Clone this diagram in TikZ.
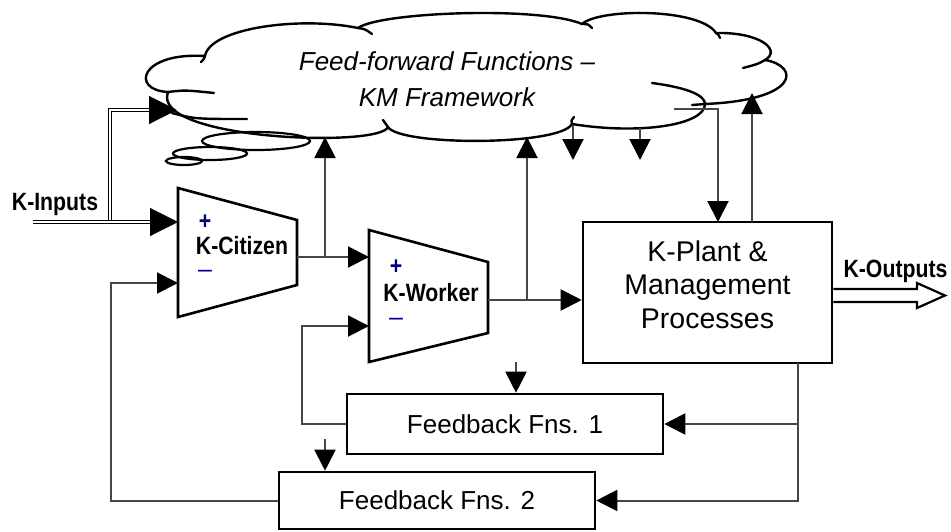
\documentclass[tikz,border=0pt]{standalone}
\usepackage{fontspec}
\setmainfont{Liberation Sans}
\newfontfamily\narrowsf[FakeStretch=0.85]{Liberation Sans}
\usetikzlibrary{arrows.meta,calc}
\definecolor{signnavy}{RGB}{0,0,128}
\definecolor{linegray}{RGB}{70,70,70}
\begin{document}
\begin{tikzpicture}[x=1pt,y=-1pt,
  heavy/.style={line width=2.6pt, line join=miter},
  fbbox/.style={draw, heavy, inner sep=0pt, minimum width=316pt, font=\fontsize{26}{31}\selectfont},
  conn/.style={draw=linegray, line width=2pt, -{Triangle[length=21pt,width=21pt,color=black]}},
  bigconn/.style={draw=black, double=white, double distance=2.2pt, line width=1.1pt, -{Triangle[length=28pt,width=28pt]}},
  lbl/.style={font=\narrowsf\bfseries\fontsize{25}{30}\selectfont, inner sep=0pt},
  signp/.style={text=signnavy, inner sep=0pt, font=\narrowsf\bfseries\fontsize{25}{30}\selectfont},
  signm/.style={text=signnavy, inner sep=0pt, font=\fontsize{25}{30}\selectfont},
  cloudline/.style={line width=2.4pt, line join=round, line cap=round}
]
\fill[white] (0,0) rectangle (951,531);
\useasboundingbox (0,0) rectangle (951,531);

% ---------- cloud ----------
\path[fill=white] (168,92) .. controls (130,90) and (140,52) .. (205,56)
  .. controls (210,28) and (300,16) .. (358,28)
  .. controls (380,12) and (540,6) .. (582,24)
  .. controls (600,8) and (700,8) .. (716,33)
  .. controls (760,32) and (782,50) .. (765,60)
  .. controls (800,66) and (800,100) .. (705,104)
  .. controls (705,125) and (640,135) .. (572,124)
  .. controls (560,146) and (400,146) .. (388,127)
  .. controls (380,148) and (150,140) .. (168,92) -- cycle;
\draw[cloudline] (168,92) .. controls (130,90) and (140,52) .. (205,56)
  .. controls (210,28) and (300,16) .. (358,28)
  .. controls (380,12) and (540,6) .. (582,24)
  .. controls (600,8) and (700,8) .. (716,33)
  .. controls (760,32) and (782,50) .. (765,60)
  .. controls (800,66) and (800,100) .. (705,104)
  .. controls (705,125) and (640,135) .. (572,124)
  .. controls (560,146) and (400,146) .. (388,127)
  .. controls (380,148) and (150,140) .. (168,92);
% inner tails
\draw[cloudline] (168,92) .. controls (185,90) .. (214,93);
\draw[cloudline] (172,113) .. controls (195,119) .. (247,119);
\draw[cloudline] (205,56) .. controls (204,59) .. (201,62);
\draw[cloudline] (358,28) .. controls (365,29) .. (372,34);
\draw[cloudline] (582,24) .. controls (588,24) .. (592,28);
\draw[cloudline] (716,33) .. controls (718,34) .. (720,38);
\draw[cloudline] (765,60) .. controls (758,64) .. (743,68);
\draw[cloudline] (652,83) .. controls (690,88) and (705,96) .. (705,104);
\draw[cloudline] (705,104) -- (692,105);
\draw[cloudline] (572,124) .. controls (571,121) .. (574,117);
\draw[cloudline] (388,127) .. controls (386,123) .. (383,120);
% thought bubbles
\draw[line width=2.2pt] (256,141) ellipse [x radius=54, y radius=9];
\draw[line width=2.2pt] (210,153.5) ellipse [x radius=37, y radius=6.5];
\draw[line width=2.2pt] (184,161) ellipse [x radius=18, y radius=4];
\node[align=center, inner sep=0pt, font=\itshape\fontsize{26}{36}\selectfont] (cloudtext) at (447,79.5) {Feed-forward Functions --\\KM Framework};

% ---------- boxes ----------
\node[draw, heavy, inner sep=0pt, minimum width=249pt, minimum height=141pt] (kplant) at (707.5,292.5) {};
\node[align=center, inner sep=0pt, font=\fontsize{28.5}{33.5}\selectfont] (kplanttext) at (707.5,284.5) {K-Plant \&\\Management\\Processes};
\node[fbbox, minimum height=60pt] (ff1) at (505,424) {Feedback Fns. 1};
\node[fbbox, minimum height=57pt] (ff2) at (437,500.5) {Feedback Fns. 2};

% ---------- trapezoids ----------
\coordinate (kcNW) at (178,188);
\coordinate (kcNE) at (297,220);
\coordinate (kcSE) at (297,285);
\coordinate (kcSW) at (178,317);
\draw[heavy] (kcNW) -- (kcNE) -- (kcSE) -- (kcSW) -- cycle;
\coordinate (kwNW) at (369,230);
\coordinate (kwNE) at (488,262);
\coordinate (kwSE) at (488,333);
\coordinate (kwSW) at (369,362);
\draw[heavy] (kwNW) -- (kwNE) -- (kwSE) -- (kwSW) -- cycle;

\node[lbl, anchor=base] (kclabel) at (242,254) {K-Citizen};
\node[signp] (kcplus) at (205,222) {+};
\node[signm] (kcminus) at (205,274) {--};
\node[lbl, anchor=base] (kwlabel) at (431,301) {K-Worker};
\node[signp] (kwplus) at (396,267) {+};
\node[signm] (kwminus) at (396,322) {--};
\node[lbl, anchor=base] (kinlabel) at (55,210) {K-Inputs};
\node[lbl, anchor=base] (koutlabel) at (895.5,277) {K-Outputs};

% ---------- ports ----------
\coordinate (kcA) at (178,222);
\coordinate (kcB) at (178,283);
\coordinate (kcO) at (297,257);
\coordinate (kwA) at (369,257);
\coordinate (kwB) at (369,326);
\coordinate (kwO) at (488,300);
\coordinate (kin) at (33,222);
\coordinate (kbr) at (110,222);
\coordinate (cloudin) at (177,110);
\coordinate (kcbr) at (325,257);
\coordinate (cloudup1) at (325,137);
\coordinate (kwbr) at (527,300);
\coordinate (cloudup2) at (527,137);
\coordinate (clouddn1) at (573,125);
\coordinate (dn1end) at (573,160);
\coordinate (clouddn2) at (640,128);
\coordinate (dn2end) at (640,160);
\coordinate (cloudout) at (674,109);
\coordinate (kpN1) at (718,222);
\coordinate (kpN2) at (752,222);
\coordinate (cloudret) at (752,93);
\coordinate (kpS) at (798,363);
\coordinate (fb1c) at (302,326);
\coordinate (fb2c) at (111,283);
\coordinate (fb1src) at (516,362);
\coordinate (fb2src) at (325,439);

% ---------- connectors ----------
\draw[bigconn] (kbr) |- (cloudin);
\draw[bigconn] (kin) -- (kcA);
\draw[conn] (kcbr) -- (cloudup1);
\draw[conn] (kcO) -- (kwA);
\draw[conn] (kwbr) -- (cloudup2);
\draw[conn] (kwO) -- (kplant.west |- kwO);
\draw[conn] (clouddn1) -- (dn1end);
\draw[conn] (clouddn2) -- (dn2end);
\draw[conn] (cloudout) -| (kpN1);
\draw[conn] (kpN2) -- (cloudret);
\draw[conn] (kpS) |- (ff2.east);
\draw[conn] (kpS |- ff1.east) -- (ff1.east);
\draw[conn] (ff1.west) -| (fb1c) -- (kwB);
\draw[conn] (ff2.west) -| (fb2c) -- (kcB);
\draw[conn] (fb1src) -- (ff1.north -| fb1src);
\draw[conn] (fb2src) -- (ff2.north -| fb2src);

% ---------- output arrow ----------
\draw[line width=2.2pt, line join=miter] (kplant.east |- 0,289) -- (917,289) -- (917,283) -- (945,295.5) -- (917,308) -- (917,302) -- (kplant.east |- 0,302);
\end{tikzpicture}
\end{document}
